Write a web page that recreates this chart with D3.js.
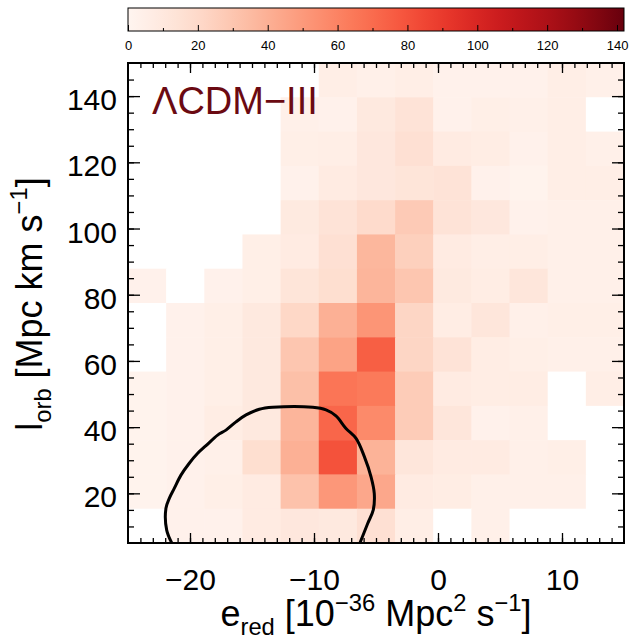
<!DOCTYPE html>
<html>
<head>
<meta charset="utf-8">
<script src="https://cdn.jsdelivr.net/npm/d3@7"></script>
<style>
  body { margin: 0; background: #fff; }
  svg { display: block; font-family: "Liberation Sans", Arial, sans-serif; }
</style>
</head>
<body>
<div id="chart-container"></div>
<script>
// bins: 13 columns in e_red, 14 rows in l_orb
const xDomain = [-25, 15];
const yDomain = [5, 150];
const nCols = 13;
const nRows = 14;

// counts per cell, first row is the top one (high l_orb)
const counts = [
  [0, 0, 0, 0, 0, 6, 4, 6, 3, 3, 3, 6, 4],
  [0, 0, 0, 0, 4, 3, 10, 14, 3, 5, 4, 6, 0],
  [0, 0, 0, 0, 5, 6, 11, 16, 8, 7, 3, 6, 4],
  [0, 0, 0, 0, 3, 8, 11, 13, 14, 3, 2, 6, 6],
  [0, 0, 0, 0, 9, 14, 19, 28, 14, 11, 3, 4, 4],
  [0, 0, 0, 5, 8, 16, 37, 25, 8, 6, 6, 4, 4],
  [3, 0, 3, 5, 13, 17, 38, 30, 9, 7, 12, 4, 4],
  [0, 3, 5, 10, 21, 40, 52, 22, 7, 12, 4, 5, 5],
  [0, 3, 5, 10, 30, 46, 75, 22, 14, 7, 5, 4, 4],
  [2, 3, 5, 10, 33, 66, 64, 27, 8, 7, 7, 0, 6],
  [2, 3, 7, 10, 38, 72, 57, 27, 12, 3, 4, 0, 0],
  [2, 3, 4, 17, 40, 80, 39, 12, 8, 8, 4, 5, 0],
  [2, 3, 5, 8, 32, 51, 44, 8, 7, 4, 4, 4, 0],
  [0, 3, 3, 8, 11, 10, 16, 6, 0, 4, 0, 0, 0]
];

// contour line (data units)
const contourX = [-21.4, -21.88, -21.94, -21.67, -21.27, -20.73, -20.06, -19.38, -18.71, -17.77, -17.1,
  -16.29, -15.48, -14.41, -13.33, -10.1, -9.03, -8.23, -7.42, -6.61, -5.94, -5.4, -5.14, -5.22, -5.67, -6.35];
const contourY = [4.5, 8.9, 15.5, 18.5, 21.5, 25.5, 29.1, 32.1, 34.4, 37.6, 39.1,
  41.6, 43.7, 45.4, 46.0, 46.0, 45.2, 43.4, 39.6, 36.6, 31.1, 25.0, 20.0, 15.0, 10.9, 4.5];

// tick values
const xTicks = [-20, -10, 0, 10];
const yTicks = [20, 40, 60, 80, 100, 120, 140];
const cbarTicks = [0, 20, 40, 60, 80, 100, 120, 140];
const cbarMax = 142;
const title = "ΛCDM−III";

{ // start block scope

  const color = {
    frame: '#000000',
    title: '#6b0a12',
    empty: '#ffffff'
  };

  const width = 640;
  const height = 640;
  const plot = { left: 128, right: 624, top: 63, bottom: 543 };
  const cbar = { left: 128, right: 624, top: 8, bottom: 31 };

  const svg = d3.select('#chart-container')
    .append('svg')
    .attr('width', width)
    .attr('height', height);

  // scales
  const xScale = d3.scaleLinear().domain(xDomain).range([plot.left, plot.right]);
  const yScale = d3.scaleLinear().domain(yDomain).range([plot.bottom, plot.top]);
  const colorScale = d3.scaleSequential(d3.interpolateReds).domain([0, cbarMax]);

  const dx = (xDomain[1] - xDomain[0]) / nCols;
  const dy = (yDomain[1] - yDomain[0]) / nRows;

  // cells
  const cells = [];
  counts.forEach((row, r) => {
    row.forEach((v, c) => {
      cells.push({
        x0: xDomain[0] + c * dx,
        y1: yDomain[1] - r * dy,
        v: v
      });
    });
  });

  svg.append('g')
    .selectAll('rect')
    .data(cells)
    .enter()
    .append('rect')
    .attr('x', d => xScale(d.x0))
    .attr('y', d => yScale(d.y1))
    .attr('width', d => xScale(d.x0 + dx) - xScale(d.x0) + 0.5)
    .attr('height', d => yScale(d.y1 - dy) - yScale(d.y1) + 0.5)
    .attr('fill', d => d.v > 0 ? colorScale(d.v) : color.empty);

  // contour, clipped to the plot box
  svg.append('clipPath')
    .attr('id', 'plot-clip')
    .append('rect')
    .attr('x', plot.left)
    .attr('y', plot.top)
    .attr('width', plot.right - plot.left)
    .attr('height', plot.bottom - plot.top);

  const line = d3.line()
    .x(d => xScale(d[0]))
    .y(d => yScale(d[1]))
    .curve(d3.curveCatmullRom);

  svg.append('path')
    .datum(d3.zip(contourX, contourY))
    .attr('clip-path', 'url(#plot-clip)')
    .attr('d', line)
    .attr('fill', 'none')
    .attr('stroke', '#000')
    .attr('stroke-width', 3);

  // axes with inward ticks on all four sides
  function addAxis(axis, transform, size, values, labels) {
    const g = svg.append('g')
      .attr('transform', transform)
      .call(axis.tickValues(values).tickSize(-size).tickSizeOuter(0));
    g.select('.domain').remove();
    g.selectAll('.tick line').attr('stroke', color.frame).attr('stroke-width', 1.3);
    if (!labels) g.selectAll('.tick text').remove();
    return g;
  }

  const xMinor = d3.range(-24, 15, 1);
  const yMinor = d3.range(10, 150, 5);

  const xAxisGroup = addAxis(d3.axisBottom(xScale).tickPadding(26), `translate(0,${plot.bottom})`, 10, xTicks, true);
  addAxis(d3.axisBottom(xScale), `translate(0,${plot.bottom})`, 5, xMinor, false);
  addAxis(d3.axisTop(xScale), `translate(0,${plot.top})`, 10, xTicks, false);
  addAxis(d3.axisTop(xScale), `translate(0,${plot.top})`, 5, xMinor, false);

  const yAxisGroup = addAxis(d3.axisLeft(yScale).tickPadding(11), `translate(${plot.left},0)`, 12, yTicks, true);
  addAxis(d3.axisLeft(yScale), `translate(${plot.left},0)`, 6, yMinor, false);
  addAxis(d3.axisRight(yScale), `translate(${plot.right},0)`, 12, yTicks, false);
  addAxis(d3.axisRight(yScale), `translate(${plot.right},0)`, 6, yMinor, false);

  xAxisGroup.selectAll('.tick text')
    .attr('font-size', 30)
    .attr('font-family', '"Liberation Sans", Arial, sans-serif')
    .attr('fill', '#000');
  yAxisGroup.selectAll('.tick text')
    .attr('font-size', 30)
    .attr('font-family', '"Liberation Sans", Arial, sans-serif')
    .attr('fill', '#000')
    .attr('dy', '0.45em');

  // frame
  svg.append('rect')
    .attr('x', plot.left)
    .attr('y', plot.top)
    .attr('width', plot.right - plot.left)
    .attr('height', plot.bottom - plot.top)
    .attr('fill', 'none')
    .attr('stroke', color.frame)
    .attr('stroke-width', 2);

  // axis titles with sub/superscripts
  function richText(sel, parts, size) {
    const small = size * 0.66;
    let offset = 0;
    parts.forEach(p => {
      const shift = p.s === 'sub' ? size * 0.25 : p.s === 'sup' ? -size * 0.42 : 0;
      sel.append('tspan')
        .attr('font-size', p.s ? small : size)
        .attr('dy', shift - offset)
        .text(p.t);
      offset = shift;
    });
  }

  const xTitle = svg.append('text')
    .attr('x', 376)
    .attr('y', 626)
    .attr('text-anchor', 'middle')
    .attr('fill', '#000');
  richText(xTitle, [
    { t: 'e' }, { t: 'red', s: 'sub' }, { t: ' [10' }, { t: '−36', s: 'sup' },
    { t: ' Mpc' }, { t: '2', s: 'sup' }, { t: ' s' }, { t: '−1', s: 'sup' }, { t: ']' }
  ], 36);

  const yTitle = svg.append('text')
    .attr('transform', 'translate(42,304) rotate(-90)')
    .attr('text-anchor', 'middle')
    .attr('fill', '#000');
  richText(yTitle, [
    { t: 'l' }, { t: 'orb', s: 'sub' }, { t: ' [Mpc km s' }, { t: '−1', s: 'sup' }, { t: ']' }
  ], 36);

  // model label
  svg.append('text')
    .attr('x', 152)
    .attr('y', 114)
    .attr('font-size', 38)
    .attr('fill', color.title)
    .text(title);

  // colour bar
  const cbarScale = d3.scaleLinear().domain([0, cbarMax]).range([cbar.left, cbar.right]);
  const grad = svg.append('defs')
    .append('linearGradient')
    .attr('id', 'cbar-grad');
  d3.range(0, 1.0001, 0.05).forEach(t => {
    grad.append('stop')
      .attr('offset', t)
      .attr('stop-color', colorScale(t * cbarMax));
  });

  svg.append('rect')
    .attr('x', cbar.left)
    .attr('y', cbar.top)
    .attr('width', cbar.right - cbar.left)
    .attr('height', cbar.bottom - cbar.top)
    .attr('fill', 'url(#cbar-grad)')
    .attr('stroke', color.frame)
    .attr('stroke-width', 1);

  const cbarAxis = svg.append('g')
    .attr('transform', `translate(0,${cbar.bottom})`)
    .call(d3.axisBottom(cbarScale).tickValues(cbarTicks).tickSize(-6).tickPadding(10).tickSizeOuter(0));
  cbarAxis.select('.domain').remove();
  cbarAxis.selectAll('.tick line').attr('stroke', '#000');
  cbarAxis.selectAll('.tick text')
    .attr('font-size', 13)
    .attr('font-family', '"Liberation Sans", Arial, sans-serif')
    .attr('fill', '#000');

  const cbarMinor = svg.append('g')
    .attr('transform', `translate(0,${cbar.bottom})`)
    .call(d3.axisBottom(cbarScale).tickValues(d3.range(10, 140, 20)).tickSize(-3).tickFormat('').tickSizeOuter(0));
  cbarMinor.select('.domain').remove();
  cbarMinor.selectAll('.tick line').attr('stroke', '#000');

} // end block scope
</script>
</body>
</html>
